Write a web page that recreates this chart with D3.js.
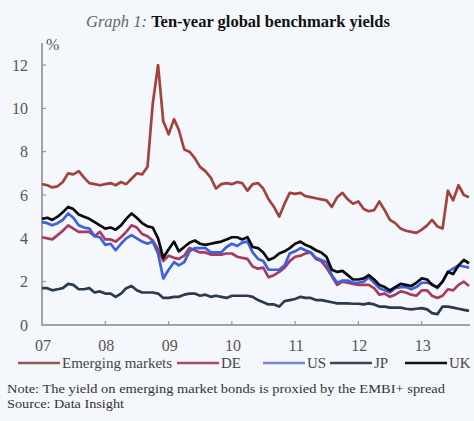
<!DOCTYPE html>
<html>
<head>
<meta charset="utf-8">
<script src="https://cdn.jsdelivr.net/npm/d3@7"></script>
<style>
  body { margin: 0; background: #f4f8fc; }
  svg { display: block; font-family: "Liberation Serif", "Times New Roman", serif; }
</style>
</head>
<body>
<svg id="chart" width="474" height="421"></svg>
<script>
// monthly observations, Jan 2007 .. Oct 2013
const startMonth = new Date(2007, 0, 1);
const emerging = [
  6.5, 6.45, 6.35, 6.4, 6.6, 7.0, 6.95, 7.1, 6.8, 6.55, 6.5, 6.45,
  6.5, 6.55, 6.45, 6.6, 6.5, 6.75, 7.0, 6.95, 7.3, 10.2, 12.0, 9.4,
  8.8, 9.5, 9.0, 8.1, 8.0, 7.7, 7.3, 7.1, 6.8, 6.3, 6.5, 6.55,
  6.5, 6.6, 6.55, 6.2, 6.5, 6.55, 6.3, 5.8, 5.45, 5.0, 5.6, 6.1,
  6.05, 6.1, 5.95, 5.9, 5.85, 5.8, 5.75, 5.45, 5.9, 6.1, 5.8, 5.6,
  5.7, 5.35, 5.25, 5.3, 5.7, 5.3, 4.85, 4.7, 4.45, 4.35, 4.3, 4.25,
  4.4, 4.6, 4.85, 4.55, 4.45, 6.2, 5.75, 6.45, 6.0, 5.9
];
const de = [
  4.05, 4.0, 3.95, 4.15, 4.35, 4.6, 4.45, 4.3, 4.3, 4.3, 4.1, 4.3,
  3.95, 3.95, 3.85, 4.05, 4.3, 4.6, 4.5, 4.2, 4.1, 3.9, 3.5, 2.95,
  3.2, 3.1, 3.05, 3.2, 3.55, 3.45, 3.35, 3.35, 3.25, 3.25, 3.25, 3.3,
  3.3, 3.15, 3.1, 3.05, 2.7, 2.6, 2.65, 2.2, 2.3, 2.45, 2.65, 2.95,
  3.15, 3.2, 3.3, 3.35, 3.05, 2.95, 2.65, 2.25, 1.85, 2.0, 1.95, 1.9,
  1.85, 1.85, 1.85, 1.7, 1.4, 1.45, 1.3, 1.4, 1.55, 1.5, 1.4, 1.35,
  1.6, 1.6, 1.35, 1.25, 1.35, 1.65, 1.6, 1.85, 2.0, 1.8
];
const us = [
  4.75, 4.7, 4.6, 4.7, 4.85, 5.15, 4.95, 4.6, 4.5, 4.45, 4.1, 4.05,
  3.7, 3.75, 3.45, 3.75, 4.0, 4.15, 4.0, 3.85, 3.75, 3.85, 3.3, 2.15,
  2.55, 2.9, 2.75, 2.9, 3.4, 3.55, 3.55, 3.55, 3.35, 3.35, 3.35, 3.6,
  3.75, 3.65, 3.8, 3.85, 3.35, 3.05, 2.95, 2.55, 2.55, 2.55, 2.75, 3.3,
  3.4, 3.55, 3.45, 3.35, 3.1, 3.0, 2.9, 2.3, 1.95, 2.05, 2.05, 1.95,
  1.95, 2.0, 2.2, 1.95, 1.7, 1.6, 1.5, 1.7, 1.75, 1.75, 1.65, 1.75,
  1.95, 1.95, 1.9, 1.7, 2.0, 2.45, 2.6, 2.75, 2.7, 2.65
];
const jp = [
  1.7, 1.7, 1.6, 1.65, 1.7, 1.9, 1.85, 1.65, 1.65, 1.7, 1.5, 1.55,
  1.45, 1.45, 1.3, 1.45, 1.7, 1.8, 1.6, 1.5, 1.5, 1.5, 1.45, 1.25,
  1.25, 1.3, 1.3, 1.4, 1.45, 1.45, 1.35, 1.4, 1.3, 1.35, 1.3, 1.25,
  1.35, 1.35, 1.35, 1.35, 1.3, 1.15, 1.05, 0.95, 0.95, 0.85, 1.1, 1.15,
  1.2, 1.3, 1.25, 1.25, 1.15, 1.15, 1.1, 1.05, 1.0, 1.0, 1.0, 0.98,
  0.98, 0.95, 1.0, 0.95, 0.85, 0.85, 0.8, 0.8, 0.8, 0.75, 0.72, 0.75,
  0.78, 0.72, 0.55, 0.5, 0.85, 0.85, 0.8, 0.75, 0.7, 0.65
];
const uk = [
  4.9, 4.95, 4.85, 5.0, 5.2, 5.45, 5.35, 5.1, 5.0, 4.9, 4.75, 4.6,
  4.45, 4.5, 4.4, 4.6, 4.9, 5.15, 4.95, 4.7, 4.55, 4.5, 4.0, 3.1,
  3.5, 3.85, 3.4, 3.6, 3.8, 3.9, 3.75, 3.7, 3.75, 3.8, 3.85, 3.95,
  4.05, 4.05, 3.95, 4.05, 3.6, 3.55, 3.35, 3.0, 3.1, 3.3, 3.4, 3.55,
  3.75, 3.85, 3.7, 3.6, 3.45, 3.35, 3.15, 2.55, 2.45, 2.5, 2.3, 2.1,
  2.1, 2.15, 2.3, 2.1, 1.85, 1.75, 1.6, 1.75, 1.9, 1.85, 1.8, 1.95,
  2.15, 2.1, 1.85, 1.75, 2.0, 2.45, 2.35, 2.75, 3.0, 2.85
];
const yearLabels = ["07", "08", "09", "10", "11", "12", "13"];
const yTicks = [0, 2, 4, 6, 8, 10, 12];

const seriesNames = ["Emerging markets", "DE", "US", "JP", "UK"];
const seriesValues = [emerging, de, us, jp, uk];
const lineColors = ["#a3423c", "#a83a5c", "#3d5fe0", "#2a3b4c", "#0a0a0a"];
const keyColors = ["#8c5a58", "#a84a62", "#7585e6", "#3a4652", "#111111"];

const svg = d3.select("#chart");

const x = d3.scaleTime()
  .domain([new Date(2007, 0, 1), new Date(2014, 0, 1)])
  .range([42, 485]);
const y = d3.scaleLinear().domain([0, 12]).range([325, 65]);

// title
const title = svg.append("text")
  .attr("x", 238).attr("y", 27)
  .attr("text-anchor", "middle")
  .attr("font-size", 16.5);
title.append("tspan").attr("font-style", "italic").attr("fill", "#666").text("Graph 1: ");
title.append("tspan").attr("font-weight", "bold").attr("fill", "#111").text("Ten-year global benchmark yields");

// axes
svg.append("line")
  .attr("x1", 42).attr("x2", 42).attr("y1", 43).attr("y2", y(0))
  .attr("stroke", "#a0a4a8").attr("stroke-width", 2);
svg.append("line")
  .attr("x1", 41).attr("x2", 470).attr("y1", y(0)).attr("y2", y(0))
  .attr("stroke", "#a0a4a8").attr("stroke-width", 2);

svg.append("text")
  .attr("x", 46).attr("y", 50)
  .attr("font-size", 16).attr("fill", "#555")
  .text("%");

const yAxis = svg.append("g");
yAxis.selectAll("line")
  .data(yTicks.filter(d => d > 0))
  .enter().append("line")
  .attr("x1", 42).attr("x2", 46)
  .attr("y1", d => y(d)).attr("y2", d => y(d))
  .attr("stroke", "#888");
yAxis.selectAll("text")
  .data(yTicks)
  .enter().append("text")
  .attr("x", 28).attr("y", d => y(d) + 5.5)
  .attr("text-anchor", "end")
  .attr("font-size", 16).attr("fill", "#555")
  .text(d => d);

const xAxis = svg.append("g");
xAxis.selectAll("line")
  .data(yearLabels.slice(1))
  .enter().append("line")
  .attr("x1", (d, i) => x(new Date(2008 + i, 0, 1)))
  .attr("x2", (d, i) => x(new Date(2008 + i, 0, 1)))
  .attr("y1", y(0)).attr("y2", y(0) - 4)
  .attr("stroke", "#888");
xAxis.selectAll("text")
  .data(yearLabels)
  .enter().append("text")
  .attr("x", (d, i) => x(new Date(2007 + i, 0, 1)) + 1)
  .attr("y", 351)
  .attr("text-anchor", "middle")
  .attr("font-size", 16).attr("fill", "#555")
  .text(d => d);

// lines
const line = d3.line()
  .x((d, i) => x(d3.timeMonth.offset(startMonth, i)))
  .y(d => y(d));

svg.append("g").selectAll("path")
  .data(seriesValues)
  .enter().append("path")
  .attr("d", d => line(d))
  .attr("fill", "none")
  .attr("stroke", (d, i) => lineColors[i])
  .attr("stroke-width", 2.7)
  .attr("stroke-linejoin", "round");

// legend
const legendX = [18, 177, 263, 330, 405];
const legend = svg.append("g").selectAll("g")
  .data(seriesNames)
  .enter().append("g")
  .attr("transform", (d, i) => `translate(${legendX[i]},363)`);
legend.append("line")
  .attr("x1", 0).attr("x2", 42)
  .attr("stroke", (d, i) => keyColors[i])
  .attr("stroke-width", 2.5);
legend.append("text")
  .attr("x", 44).attr("y", 5)
  .attr("font-size", 15).attr("fill", "#444")
  .text(d => d);

// notes
svg.append("text")
  .attr("x", 7).attr("y", 393)
  .attr("font-size", 13.5).attr("fill", "#333")
  .attr("textLength", 438).attr("lengthAdjust", "spacingAndGlyphs")
  .text("Note: The yield on emerging market bonds is proxied by the EMBI+ spread");
svg.append("text")
  .attr("x", 7).attr("y", 408)
  .attr("font-size", 13.5).attr("fill", "#333")
  .attr("textLength", 117).attr("lengthAdjust", "spacingAndGlyphs")
  .text("Source: Data Insight");
</script>
</body>
</html>
